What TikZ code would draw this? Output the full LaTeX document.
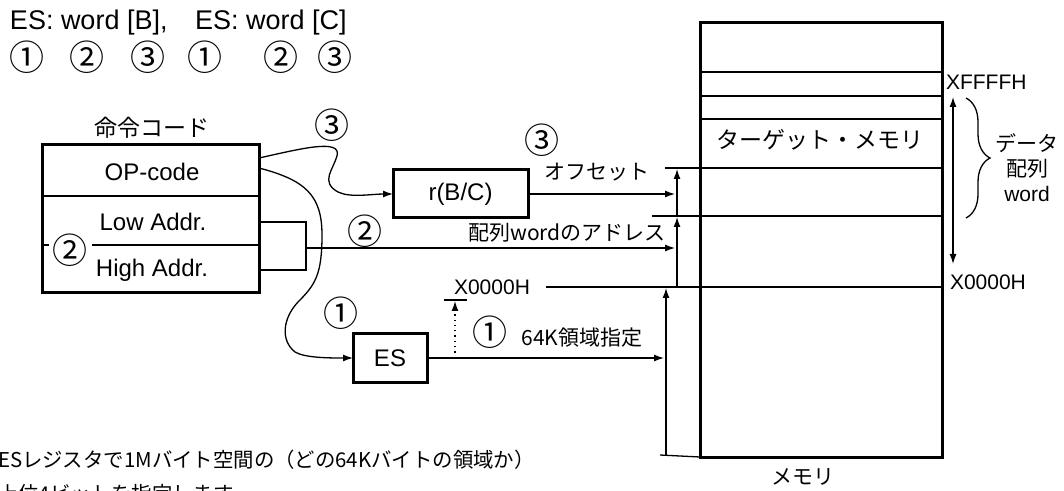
\documentclass[tikz,border=0pt]{standalone}
\usepackage{fontspec}
\setmainfont{Liberation Sans}
\newfontfamily\jpfont{Noto Sans CJK JP}
\usetikzlibrary{arrows.meta,positioning,decorations.pathreplacing}

\tikzset{
  lbl/.style={font=\fontsize{12}{14}\selectfont},
  ttl/.style={font=\fontsize{13.5}{16}\selectfont},
  hex/.style={font=\fontsize{10.5}{12}\selectfont},
  jp/.style={font=\fontsize{10.5}{12.5}\jpfont},
  jpbig/.style={font=\fontsize{11.5}{13}\jpfont},
  num/.style={font=\fontsize{17.5}{19}\jpfont},
  reg/.style={draw, line width=1.5pt, minimum height=24pt, lbl},
  ptr/.style={-{Latex[length=5pt,width=3.5pt]}, line width=0.65pt},
}

\begin{document}
\begin{tikzpicture}[x=0.5pt, y=-0.5pt, every node/.style={inner sep=0pt, outer sep=0pt}]
  \useasboundingbox (0,0) rectangle (1064,491);

  % title
  \node[ttl, anchor=base west] (asmB) at (10,30) {ES: word [B],};
  \node[ttl, anchor=base west] (asmC) at (195,30) {ES: word [C]};
  \foreach \nx/\lab [count=\i] in {27/①,87/②,148/③,205/①,281/②,335/③}
    \node[num] (n\i) at (\nx,57) {\lab};

  % instruction code
  \node[jpbig] (cmdlbl) at (152,128) {命令コード};
  \node[draw, line width=1.5pt, minimum width=108.5pt, minimum height=74pt] (cmd) at (150.5,219) {};
  \draw[line width=0.8pt] (cmd.west |- 0,196) -- (cmd.east |- 0,196);
  \draw[line width=0.8pt] (cmd.west |- 0,245) -- (cmd.east |- 0,245);
  \node[lbl] (op) at (152,172) {OP-code};
  \node[lbl] (lo) at (153,222) {Low Addr.};
  \node[lbl] (hi) at (152,270) {High Addr.};
  \node[num, fill=white, inner xsep=2pt, inner ysep=-4pt] (two) at (70,250) {②};

  % registers
  \node[reg, minimum width=67.5pt] (rbc) at (460.5,194) {r(B/C)};
  \node[reg, minimum width=37pt] (es) at (390,358) {ES};

  % memory
  \node[draw, line width=1.5pt, minimum width=121pt, minimum height=217pt] (mem) at (821,240) {};
  \foreach \yy in {72,96,119,168,216,287}
    \draw[line width=0.65pt] (mem.west |- 0,\yy) -- (mem.east |- 0,\yy);
  \node[jpbig] (tgt) at (820,140) {ターゲット・メモリ};
  \node[jp] (memlbl) at (803,477) {メモリ};
  \node[hex, anchor=west] (xhi) at (946,82) {XFFFFH};
  \node[hex, anchor=west] (xlo2) at (950,282) {X0000H};
  \draw[{Latex[length=5pt,width=3.5pt]}-{Latex[length=5pt,width=3.5pt]}, line width=0.65pt] (953,97) -- (953,264);
  \draw[line width=0.65pt, decorate, decoration={brace, amplitude=12pt}] (966,98) -- (966,218);
  \node[jp, align=center] (arr) at (1027,168) {データ\\配列\\{\rmfamily word}};

  % end points on the memory side
  \coordinate (offTip) at (675,194);
  \coordinate (adrTip) at (675,248);
  \coordinate (segTip) at (664,358);
  \coordinate (brk) at (306,248);
  \coordinate (dotFoot) at (455,358);
  \coordinate (dotTop) at (455,301);

  % address pair
  \draw[line width=0.65pt] (cmd.east |- lo) -- (brk |- lo) -- (brk |- hi) -- (cmd.east |- hi);
  \draw[ptr] (brk) -- (adrTip);
  \node[num] (two2) at (365,231) {②};
  \node[jp] (adrlbl) at (567,233) {配列wordのアドレス};

  % offset
  \draw[ptr] (259,158) .. controls (300,149) and (342,138) .. (337,156)
    .. controls (333,170) and (320,182) .. (338,192)
    .. controls (350,198) and (372,194) .. (rbc.west);
  \node[num] (three2) at (332,125) {③};
  \draw[ptr] (rbc.east) -- (offTip);
  \node[num] (three3) at (542,140) {③};
  \node[jp] (offlbl) at (597,172) {オフセット};

  % segment
  \draw[ptr] (259,168) .. controls (305,180) and (322,195) .. (322,235)
    .. controls (322,275) and (315,285) .. (298,302)
    .. controls (283,318) and (280,340) .. (295,352)
    .. controls (305,358) and (330,358) .. (es.west);
  \node[num] (one2) at (341,313) {①};
  \draw[ptr] (es.east) -- (segTip);
  \draw[ptr, dotted] (dotFoot) -- (dotTop);
  \draw[line width=0.65pt] (444,300) -- (467,300);
  \node[hex] (xlo) at (492,287) {X0000H};
  \draw[line width=0.65pt] ([xshift=8pt]xlo.east) -- (mem.west |- xlo);
  \node[num] (one3) at (490,332) {①};
  \node[jp] (seglbl) at (582,338) {64K領域指定};

  % scale arrows
  \draw[ptr] (666,455) -- (666,288);
  \draw[line width=0.65pt] (660,455) -- (mem.south west);
  \draw[ptr] (677,287) -- (677,217);
  \draw[ptr] (677,216) -- (677,169);
  \draw[line width=0.65pt] (652,216) -- (mem.west |- 0,216);
  \draw[line width=0.65pt] (665,168) -- (mem.west |- 0,168);

  % note
  \node[font=\fontsize{10.2}{12}\jpfont, anchor=west] (note1) at (-2,460) {ESレジスタで1Mバイト空間の（どの64Kバイトの領域か）};
  \node[font=\fontsize{10.2}{12}\jpfont, anchor=west] (note2) at (-2,494) {上位4ビットを指定します};
\end{tikzpicture}
\end{document}
